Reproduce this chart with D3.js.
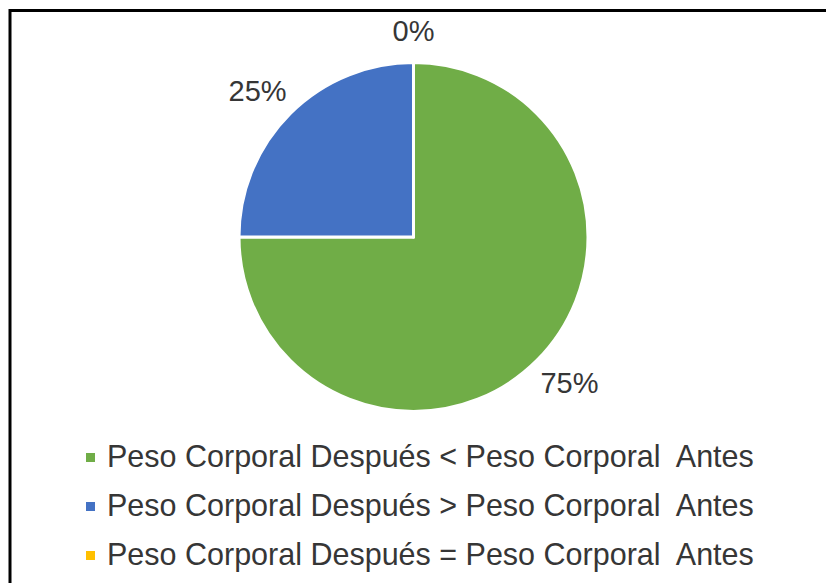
<!DOCTYPE html>
<html>
<head>
<meta charset="utf-8">
<script src="https://cdn.jsdelivr.net/npm/d3@7"></script>
<style>
  html, body { margin: 0; padding: 0; background: #ffffff; }
  svg { display: block; font-family: "Liberation Sans", Arial, sans-serif; }
</style>
</head>
<body>
<svg id="chart" width="826" height="583"></svg>
<script>
// Distribution of body weight change (after vs. before)
const categories = [
  "Peso Corporal Después < Peso Corporal  Antes",
  "Peso Corporal Después > Peso Corporal  Antes",
  "Peso Corporal Después = Peso Corporal  Antes"
];
const values = [75, 25, 0];
const labels = ["75%", "25%", "0%"];
const colors = ["#70AD47", "#4472C4", "#FFC000"];

const svg = d3.select("#chart");

// Frame (only the top and left edges fall inside the page)
svg.append("path")
  .attr("d", "M10,583 V10.5 H826")
  .attr("fill", "none")
  .attr("stroke", "#000")
  .attr("stroke-width", 3);

const cx = 413.5, cy = 237, r = 174.5;

const pie = d3.pie().sort(null).value(d => d).startAngle(0).endAngle(2 * Math.PI);
const arcs = pie(values);
const arc = d3.arc().innerRadius(0).outerRadius(r);

const g = svg.append("g").attr("transform", `translate(${cx},${cy})`);

g.selectAll("path.slice")
  .data(arcs)
  .join("path")
  .attr("class", "slice")
  .attr("d", arc)
  .attr("fill", (d, i) => colors[i])
  .attr("stroke", "#ffffff")
  .attr("stroke-width", 3)
  .attr("stroke-linejoin", "round");

// Outside-end data labels
const fs = 29, gap = 13, boxH = 38, boxPad = 8;
g.selectAll("text.lbl")
  .data(arcs)
  .join("text")
  .attr("class", "lbl")
  .attr("font-size", fs)
  .attr("fill", "#363636")
  .attr("text-anchor", "middle")
  .text((d, i) => labels[i])
  .each(function (d) {
    const a = (d.startAngle + d.endAngle) / 2;
    const w = this.getComputedTextLength() + boxPad;
    const px = Math.sin(a) * (r + gap);
    const py = -Math.cos(a) * (r + gap);
    const bx = px + Math.sin(a) * w / 2;
    const by = py - Math.cos(a) * boxH / 2;
    d3.select(this).attr("x", bx).attr("y", by + 0.36 * fs);
  });

// Legend
const legendY = d3.scaleOrdinal().domain(categories).range([467, 516, 565]);
const leg = svg.append("g").attr("font-size", 30.5).attr("fill", "#363636");
categories.forEach((c, i) => {
  const y = legendY(c);
  leg.append("rect")
    .attr("x", 86).attr("y", y - 14)
    .attr("width", 9).attr("height", 9)
    .attr("fill", colors[i]);
  leg.append("text")
    .attr("x", 107).attr("y", y)
    .attr("xml:space", "preserve")
    .style("white-space", "pre")
    .text(c);
});
</script>
</body>
</html>
